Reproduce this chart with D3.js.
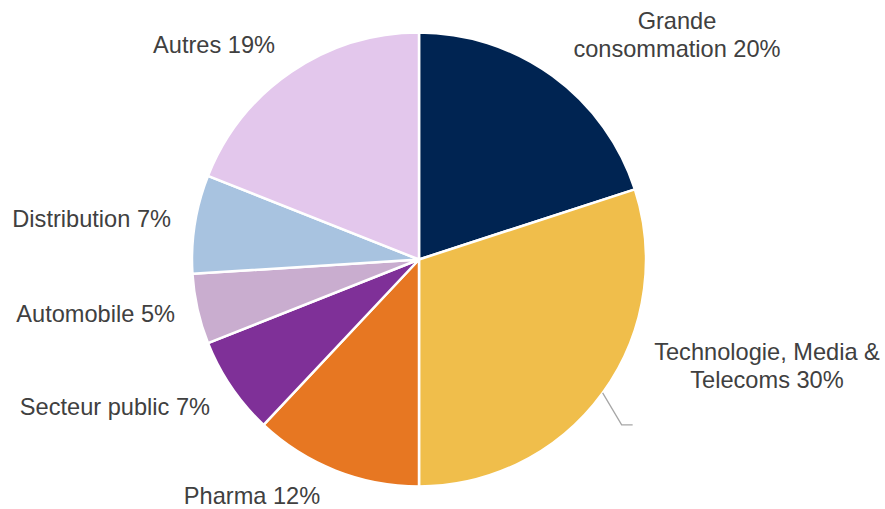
<!DOCTYPE html>
<html>
<head>
<meta charset="utf-8" />
<script src="https://cdn.jsdelivr.net/npm/d3@7"></script>
<style>
  body { margin: 0; background: #fff; }
  svg text { font-family: "Liberation Sans", Arial, sans-serif; font-size: 23.6px; fill: #404040; }
</style>
</head>
<body>
<div id="chart"></div>
<script>
// data
var sectors = ["Grande consommation", "Technologie, Media & Telecoms", "Pharma", "Secteur public", "Automobile", "Distribution", "Autres"];
var shares = [20, 30, 12, 7, 5, 7, 19];
var colors = ["#002452", "#F0BE4B", "#E77722", "#7F3098", "#C9ADCF", "#A8C3E0", "#E3C7EC"];

// label lines (split like the original) and where they sit
var labelLines = [
  ["Grande", "consommation 20%"],
  ["Technologie, Media &", "Telecoms 30%"],
  ["Pharma 12%"],
  ["Secteur public 7%"],
  ["Automobile 5%"],
  ["Distribution 7%"],
  ["Autres 19%"]
];
var labelPos = [
  {x: 677, y: 29, anchor: "middle"},
  {x: 767, y: 360, anchor: "middle"},
  {x: 252, y: 504, anchor: "middle"},
  {x: 210, y: 415, anchor: "end"},
  {x: 175, y: 322, anchor: "end"},
  {x: 171, y: 227, anchor: "end"},
  {x: 275, y: 53, anchor: "end"}
];

var width = 885, height = 509;
var cx = 419, cy = 259.5, radius = 227;

var svg = d3.select("#chart")
  .append("svg")
    .attr("width", width)
    .attr("height", height);

var g = svg.append("g")
  .attr("transform", "translate(" + cx + "," + cy + ")");

var pie = d3.pie().sort(null).value(function(d) { return d; });
var arc = d3.arc().innerRadius(0).outerRadius(radius);

var arcs = pie(shares);

g.selectAll("path.slice")
  .data(arcs)
  .enter()
  .append("path")
    .attr("class", "slice")
    .attr("d", arc)
    .style("fill", function(d, i) { return colors[i]; })
    .style("stroke", "#ffffff")
    .style("stroke-width", 2.5)
    .style("stroke-linejoin", "round");

// leader line for the Tech label, from the middle of its arc
var tech = arcs[1];
var a = (tech.startAngle + tech.endAngle) / 2;
var p0 = [Math.sin(a) * radius, -Math.cos(a) * radius];
var leader = d3.line();
g.append("path")
  .attr("d", leader([p0, [p0[0] + 19, p0[1] + 32], [p0[0] + 30, p0[1] + 32]]))
  .style("fill", "none")
  .style("stroke", "#A6A6A6")
  .style("stroke-width", 1.3);

// labels
var labels = svg.selectAll("text.label")
  .data(labelLines)
  .enter()
  .append("text")
    .attr("class", "label")
    .attr("x", function(d, i) { return labelPos[i].x; })
    .attr("y", function(d, i) { return labelPos[i].y; })
    .attr("text-anchor", function(d, i) { return labelPos[i].anchor; });

labels.each(function(lines, i) {
  var t = d3.select(this);
  lines.forEach(function(line, j) {
    t.append("tspan")
      .attr("x", labelPos[i].x)
      .attr("dy", j === 0 ? 0 : 27.5)
      .text(line);
  });
});
</script>
</body>
</html>
